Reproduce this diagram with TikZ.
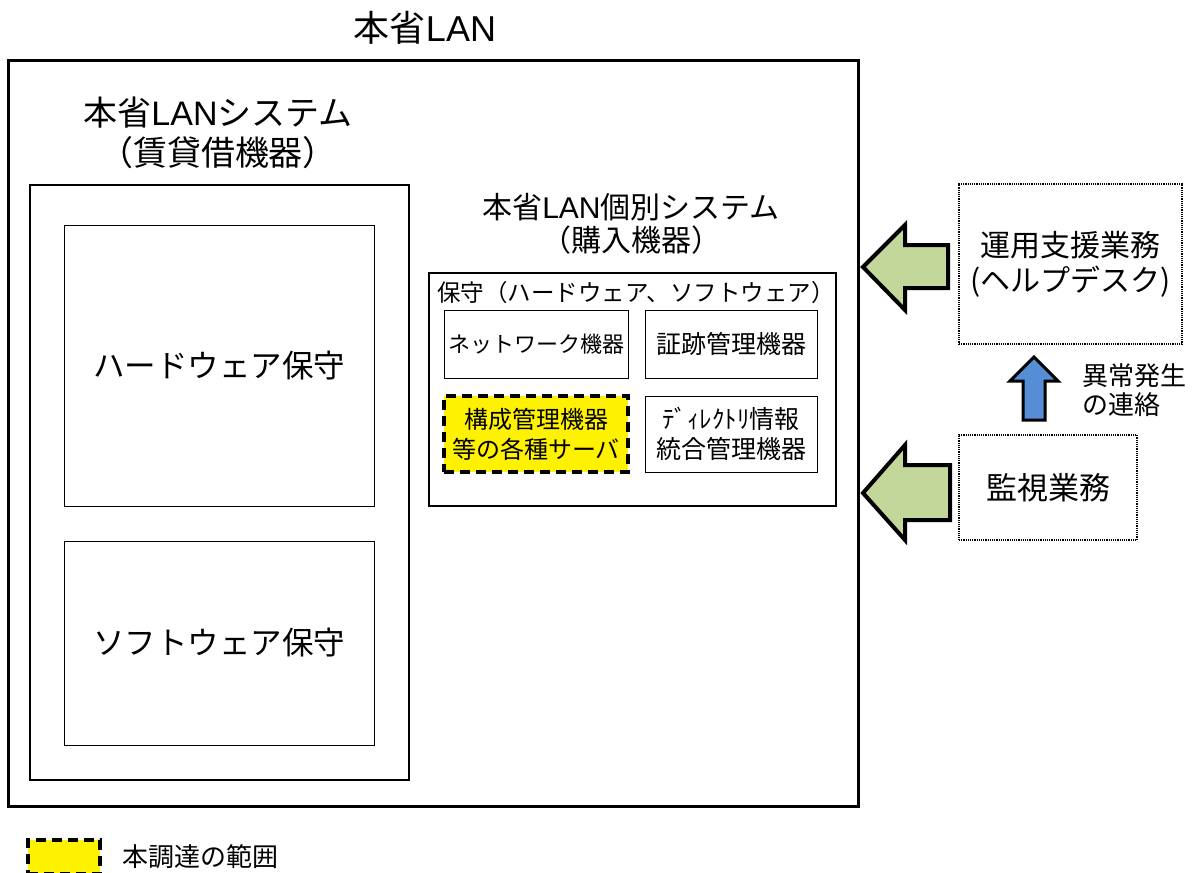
\documentclass[tikz,border=0pt]{standalone}
\usepackage{fontspec}
\setmainfont{Noto Sans CJK JP}
\newfontfamily\latin{Liberation Sans}
\definecolor{arrowgreen}{RGB}{196,215,155}
\definecolor{arrowblue}{RGB}{85,142,213}
\begin{document}
\begin{tikzpicture}[x=1pt,y=-1pt,line join=miter,
  frame/.style={draw,rectangle,inner sep=0pt,line width=#1},
  frame/.default=1pt,
  scope box/.style={draw,rectangle,inner sep=0pt,fill=yellow,line width=3.5pt,dash pattern=on 10pt off 6pt},
  task box/.style={draw,rectangle,inner sep=0pt,line width=1.5pt,dash pattern=on 1.2pt off 1pt},
  label/.style={align=center,inner sep=0pt},
  block/.style={line width=4pt,draw=black}]
%%
\useasboundingbox (0,0) rectangle (1195,873);
\node (title) at (425,28) [label,font=\fontsize{36}{40}\selectfont] {本省{\latin LAN}};
\node (lan) at (433,433) [frame=3pt,minimum width=850pt,minimum height=746pt] {};
\node (syslabel) at (218,133) [label,font=\fontsize{34}{40}\selectfont] {本省{\latin LAN}システム\\（賃貸借機器）};
\node (sys) at (219.5,482.5) [frame=2pt,minimum width=379pt,minimum height=595pt] {};
\node (hw) at (219,365.5) [frame,minimum width=310pt,minimum height=281pt,font=\fontsize{31.5}{36}\selectfont] {ハードウェア保守};
\node (sw) at (219,643) [frame,minimum width=310pt,minimum height=204pt,font=\fontsize{31.5}{36}\selectfont] {ソフトウェア保守};
\node (indlabel) at (631,223.5) [label,font=\fontsize{30}{33}\selectfont] {本省{\latin LAN}個別システム\\（購入機器）};
\node (ind) at (632.5,389.5) [frame=2pt,minimum width=407pt,minimum height=233pt] {};
\node (maint) at (636,293) [label,font=\fontsize{23.5}{28}\selectfont] {保守（ハードウェア、ソフトウェア）};
\node (net) at (536,344) [frame,minimum width=184pt,minimum height=68pt,font=\fontsize{22}{26}\selectfont] {ネットワーク機器};
\node (log) at (731,344) [frame,minimum width=172pt,minimum height=68pt,font=\fontsize{25}{30}\selectfont] {証跡管理機器};
\node (cfg) at (536,434) [scope box,minimum width=184pt,minimum height=76pt,align=center,font=\fontsize{24}{30}\selectfont] {構成管理機器\\等の各種サーバ};
\node (dir) at (731,434) [frame,minimum width=172pt,minimum height=76pt,align=center,font=\fontsize{25}{30}\selectfont] {ﾃﾞｨﾚｸﾄﾘ情報\\統合管理機器};
\node (help) at (1070.5,264) [task box,minimum width=223pt,minimum height=160pt,align=center,font=\fontsize{30}{35}\selectfont] {運用支援業務\\(ヘルプデスク)};
\node (mon) at (1048,487.5) [task box,minimum width=178pt,minimum height=105pt,font=\fontsize{31}{36}\selectfont] {監視業務};
\node (alert) at (1082,390.5) [anchor=west,align=left,inner sep=0pt,font=\fontsize{26}{29}\selectfont] {異常発生\\の連絡};
%%
\draw [block,fill=arrowgreen] (863,267) -- (905,225) -- (905,245) -- (948,245) -- (948,288) -- (905,288) -- (905,310) -- cycle;
\draw [block,fill=arrowgreen] (863,493) -- (905,445) -- (905,465) -- (950,465) -- (950,520) -- (905,520) -- (905,540) -- cycle;
\draw [line width=3pt,fill=arrowblue] (1034,357) -- (1058,381) -- (1045,381) -- (1045,420) -- (1023,420) -- (1023,381) -- (1010,381) -- cycle;
%%
\node (legend) at (64,857) [scope box,minimum width=72pt,minimum height=34pt] {};
\node (legendtext) at (122,857) [anchor=west,inner sep=0pt,font=\fontsize{26}{30}\selectfont] {本調達の範囲};
%
\end{tikzpicture}
\end{document}
